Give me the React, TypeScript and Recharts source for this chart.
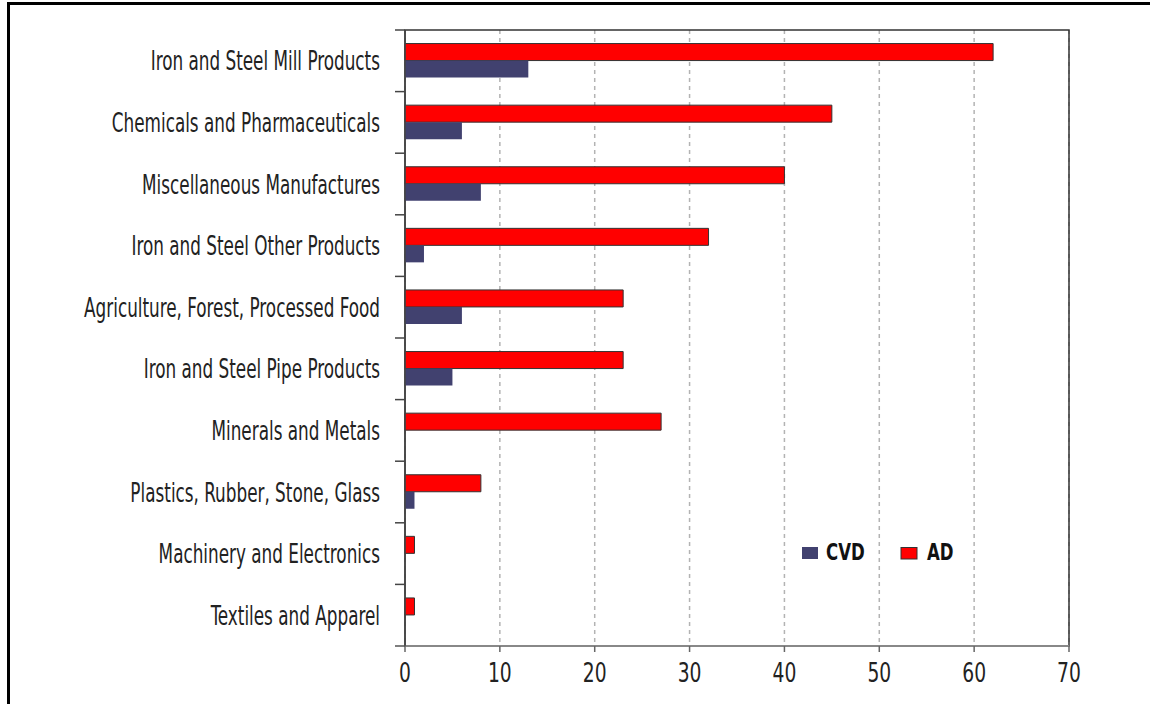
import React from "react";
import {
  BarChart,
  Bar,
  XAxis,
  YAxis,
  CartesianGrid,
  Legend,
  ReferenceArea,
} from "recharts";

const categories = [
  "Iron and Steel Mill Products",
  "Chemicals and Pharmaceuticals",
  "Miscellaneous Manufactures",
  "Iron and Steel Other Products",
  "Agriculture, Forest, Processed Food",
  "Iron and Steel Pipe Products",
  "Minerals and Metals",
  "Plastics, Rubber, Stone, Glass",
  "Machinery and Electronics",
  "Textiles and Apparel",
];
const adValues = [62, 45, 40, 32, 23, 23, 27, 8, 1, 1];
const cvdValues = [13, 6, 8, 2, 6, 5, 0, 1, 0, 0];
const xTicks = [0, 10, 20, 30, 40, 50, 60, 70];

const data = categories.map((name, i) => ({
  name,
  AD: adValues[i],
  CVD: cvdValues[i],
}));

const FONT = "'DejaVu Sans Condensed', 'DejaVu Sans', sans-serif";
const RED = "#ff0000";
const BLUE = "#41416f";

const CategoryTick = (props: any) => {
  const { x, y, payload, index, visibleTicksCount } = props;
  const half = payload && payload.offset ? payload.offset : 30.8;
  const axisX = x + 25;
  const isLast = index === (visibleTicksCount ?? 10) - 1;
  return (
    <g>
      <line x1={axisX - 10} x2={axisX} y1={y - half} y2={y - half} stroke="#444" strokeWidth={1.5} />
      {isLast && (
        <line x1={axisX - 10} x2={axisX} y1={y + half} y2={y + half} stroke="#555" strokeWidth={1.5} />
      )}
      <text
        transform={`translate(${x},${y + 9.5}) scale(0.72,1)`}
        x={0}
        y={0}
        textAnchor="end"
        fill="#222"
        fontFamily={FONT}
        fontSize={26}
      >
        {payload.value}
      </text>
    </g>
  );
};

const NumberTick = (props: any) => {
  const { x, y, payload } = props;
  return (
    <text
      transform={`translate(${x},${y + 26}) scale(0.8,1)`}
      x={0}
      y={0}
      textAnchor="middle"
      fill="#222"
      fontFamily={FONT}
      fontSize={26}
    >
      {payload.value}
    </text>
  );
};

const LegendContent = () => {
  return (
    <svg width={200} height={30} style={{ display: "block" }}>
      <rect x={2} y={9} width={16} height={12} fill={BLUE} />
      <text
        transform="translate(26,22) scale(0.8,1)"
        fontFamily={FONT}
        fontWeight="bold"
        fontSize={23}
        fill="#111"
      >
        CVD
      </text>
      <rect x={101} y={9.5} width={16} height={11.5} fill={RED} stroke="#333" strokeWidth={1} />
      <text
        transform="translate(127,22) scale(0.8,1)"
        fontFamily={FONT}
        fontWeight="bold"
        fontSize={23}
        fill="#111"
      >
        AD
      </text>
    </svg>
  );
};

export default function App() {
  return (
    <div
      style={{
        position: "absolute",
        left: 0,
        top: 0,
        width: 1150,
        height: 704,
        overflow: "hidden",
        background: "#fff",
      }}
    >
      <div
        style={{
          position: "absolute",
          left: 7,
          top: 2,
          width: 1300,
          height: 900,
          border: "3px solid #000",
          boxSizing: "border-box",
        }}
      />
      <div style={{ position: "absolute", left: 0, top: 0 }}>
        <BarChart
          width={1150}
          height={704}
          data={data}
          layout="vertical"
          margin={{ top: 30, right: 81, bottom: 0, left: 0 }}
          barCategoryGap="22%"
          barGap={0}
        >
          <CartesianGrid
            horizontal={false}
            vertical={true}
            stroke="#b3b3b3"
            strokeWidth={1.5}
            strokeDasharray="4 4"
          />
          <XAxis
            type="number"
            domain={[0, 70]}
            ticks={xTicks}
            interval={0}
            height={58}
            tickSize={6}
            tickMargin={4}
            axisLine={{ stroke: "#888", strokeWidth: 2 }}
            tickLine={{ stroke: "#666", strokeWidth: 1.5 }}
            tick={<NumberTick />}
          />
          <YAxis
            type="category"
            dataKey="name"
            width={405}
            interval={0}
            tickSize={10}
            tickMargin={15}
            tickLine={false}
            axisLine={{ stroke: "#444", strokeWidth: 1.5 }}
            tick={<CategoryTick />}
          />
          <ReferenceArea
            x1={0}
            x2={70}
            fill="none"
            stroke="#333"
            strokeWidth={1.5}
            ifOverflow="visible"
          />
          <Bar
            dataKey="AD"
            name="AD"
            fill={RED}
            stroke="#333"
            strokeWidth={1}
            isAnimationActive={false}
          />
          <Bar
            dataKey="CVD"
            name="CVD"
            fill={BLUE}
            isAnimationActive={false}
          />
          <Legend
            layout="horizontal"
            verticalAlign="middle"
            align="center"
            content={<LegendContent />}
            wrapperStyle={{ left: 800, top: 538, width: 200, height: 30 }}
          />
        </BarChart>
      </div>
    </div>
  );
}
